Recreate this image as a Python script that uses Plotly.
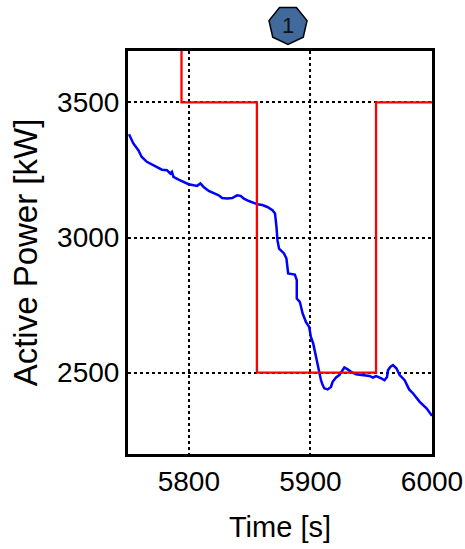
import math
import plotly.graph_objects as go

# ---- data ----
time_meas = [5750.8, 5754.4, 5758.5, 5761.3, 5765.5, 5769.6, 5773.7, 5777.9, 5782.0, 5784.7,
             5786.1, 5787.4, 5791.6, 5795.7, 5799.8, 5804.0, 5806.8, 5809.5, 5812.2, 5816.4,
             5820.5, 5824.6, 5827.4, 5831.6, 5835.7, 5839.8, 5842.6, 5845.3, 5849.4, 5853.6,
             5856.4, 5860.5, 5864.6, 5868.8, 5870.9, 5872.1, 5872.9, 5874.2, 5878.3, 5880.3,
             5881.7, 5887.2, 5888.8, 5888.8, 5891.3, 5893.6, 5896.3, 5899.0, 5900.4, 5902.3,
             5904.0, 5906.0, 5907.9, 5908.7, 5910.1, 5911.4, 5914.2, 5916.9, 5918.3, 5921.1,
             5923.8, 5926.6, 5927.9, 5930.7, 5933.5, 5937.6, 5943.1, 5948.6, 5951.4, 5954.1,
             5958.3, 5961.0, 5963.0, 5963.8, 5965.7, 5967.9, 5970.7, 5973.4, 5977.5, 5981.2,
             5984.5, 5989.9, 5995.5, 6000.0]
power_meas = [3382, 3348, 3323, 3298, 3280, 3270, 3261, 3251, 3249, 3237,
              3243, 3224, 3214, 3206, 3197, 3193, 3191, 3200, 3187, 3172,
              3165, 3156, 3146, 3144, 3146, 3156, 3154, 3144, 3135, 3128,
              3123, 3120, 3113, 3101, 3089, 3039, 2990, 2959, 2941, 2922,
              2867, 2863, 2842, 2774, 2762, 2719, 2688, 2669, 2632, 2608,
              2571, 2521, 2491, 2472, 2454, 2442, 2438, 2447, 2466, 2482,
              2491, 2509, 2519, 2512, 2503, 2494, 2491, 2488, 2482, 2487,
              2479, 2472, 2484, 2509, 2521, 2528, 2516, 2491, 2472, 2438,
              2423, 2392, 2368, 2340]

time_set = [5750, 5794, 5856, 5954, 6000]
power_set = [4000, 3500, 2500, 3500, 3500]

x_ticks = [5800, 5900, 6000]
y_ticks = [2500, 3000, 3500]
badge_label = "1"

FONT = "Liberation Sans, Arial, Helvetica, sans-serif"

fig = go.Figure()
fig.add_trace(go.Scatter(x=time_meas, y=power_meas, mode="lines",
                         line=dict(color="#0000ff", width=2.5), showlegend=False))
fig.add_trace(go.Scatter(x=time_set, y=power_set, mode="lines", line_shape="hv",
                         line=dict(color="#ff0000", width=2.3), showlegend=False))

# heptagon badge (paper coordinates)
L, R, T, B = 128, 432, 51, 454
W, H = R - L, B - T
cx, cy, r = 288, 25, 19.5
pts = []
for k in range(7):
    a = math.radians(90 + 360 / 14 + k * 360 / 7)  # flat top edge
    px = cx + r * math.cos(a)
    py = cy - r * math.sin(a)
    pts.append(((px - L) / W, (B - py) / H))
path = "M " + " L ".join(f"{x:.4f},{y:.4f}" for x, y in pts) + " Z"
fig.add_shape(type="path", path=path, xref="paper", yref="paper",
              fillcolor="#41699c", line=dict(color="#000000", width=1.5), layer="above")
fig.add_annotation(x=(cx - L) / W, y=(B - cy) / H, xref="paper", yref="paper",
                   xanchor="center", yanchor="middle",
                   text=badge_label, showarrow=False,
                   font=dict(family=FONT, size=22, color="#111111"))

axis_common = dict(showline=True, linecolor="black", linewidth=3, mirror=True,
                   showgrid=True, gridcolor="black", gridwidth=2, griddash="dot",
                   zeroline=False, ticks="", automargin=False,
                   tickfont=dict(family=FONT, size=28, color="black"))

fig.update_xaxes(range=[5750, 6000], tickvals=x_ticks, ticktext=[str(v) for v in x_ticks],
                 title=dict(text="Time [s]", font=dict(family=FONT, size=29, color="black"), standoff=22),
                 **axis_common)
fig.update_yaxes(range=[2199, 3690], tickvals=y_ticks, ticktext=[str(v) for v in y_ticks],
                 title=dict(text="Active Power [kW]", font=dict(family=FONT, size=33, color="black"), standoff=10),
                 **axis_common)

fig.update_layout(width=465, height=549, margin=dict(l=L, r=465 - R, t=T, b=549 - B),
                  plot_bgcolor="white", paper_bgcolor="white", font=dict(family=FONT))

fig.write_html("out.html")
